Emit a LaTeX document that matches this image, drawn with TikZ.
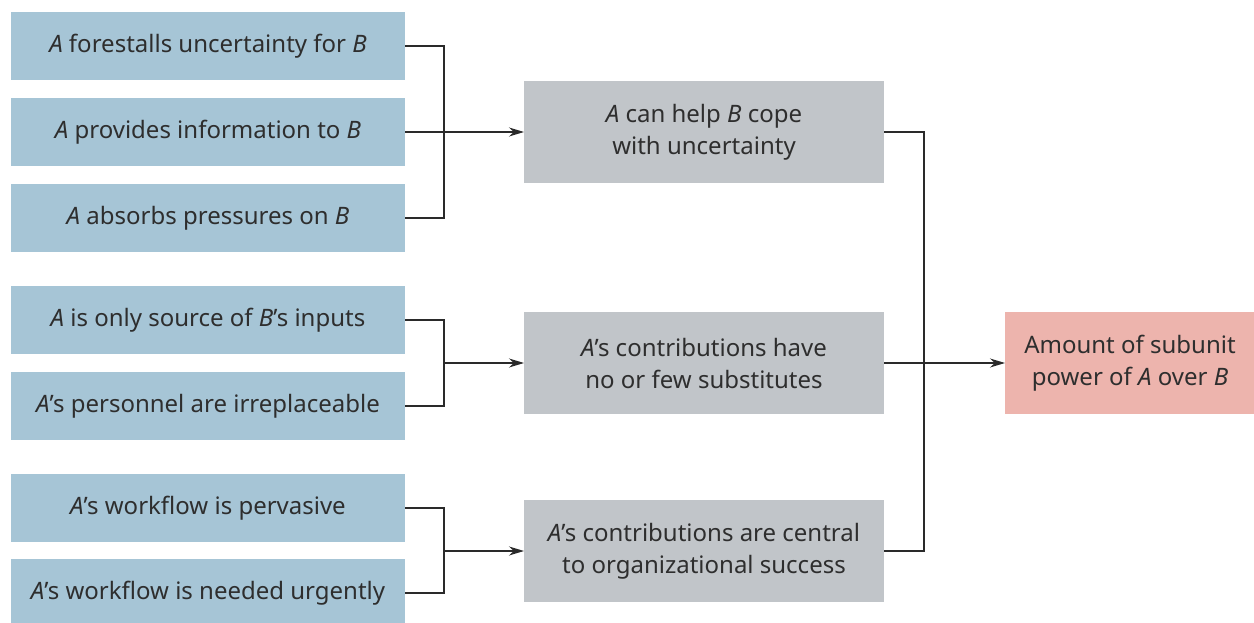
\documentclass[tikz,border=0pt]{standalone}
\usepackage{fontspec}
\setmainfont{Noto Sans}
\usetikzlibrary{arrows.meta}
\definecolor{bluebox}{HTML}{A6C5D6}
\definecolor{graybox}{HTML}{C1C5C9}
\definecolor{pinkbox}{HTML}{EDB4AD}
\definecolor{txt}{HTML}{2E2E2E}
\definecolor{ln}{HTML}{2A2A2A}
\tikzset{
  base/.style={inner sep=0pt, outer sep=0pt, text=txt, align=center, font=\fontsize{24}{32}\selectfont},
  leftbox/.style={base, fill=bluebox, minimum width=394pt, minimum height=68pt},
  midbox/.style={base, fill=graybox, minimum width=360pt, minimum height=102pt},
  outbox/.style={base, fill=pinkbox, minimum width=250pt, minimum height=102pt},
  conn/.style={draw=ln, line width=1.4pt},
  arr/.style={conn, -{Stealth[length=15pt,width=9pt]}}
}
\begin{document}
\begin{tikzpicture}[x=1pt,y=-1pt]
\useasboundingbox (0,0) rectangle (1254,623);
% left boxes
\node[leftbox] (l1) at (208,46) {\textit{A} forestalls uncertainty for \textit{B}};
\node[leftbox] (l2) at (208,132) {\textit{A} provides information to \textit{B}};
\node[leftbox] (l3) at (208,218) {\textit{A} absorbs pressures on \textit{B}};
\node[leftbox] (l4) at (208,320) {\textit{A} is only source of \textit{B}’s inputs};
\node[leftbox] (l5) at (208,406) {\textit{A}’s personnel are irreplaceable};
\node[leftbox] (l6) at (208,508) {\textit{A}’s workflow is pervasive};
\node[leftbox] (l7) at (208,593) {\textit{A}’s workflow is needed urgently};
% middle boxes
\node[midbox] (m1) at (704,132) {\textit{A} can help \textit{B} cope\\with uncertainty};
\node[midbox] (m2) at (704,363) {\textit{A}’s contributions have\\no or few substitutes};
\node[midbox] (m3) at (704,551) {\textit{A}’s contributions are central\\to organizational success};
% output
\node[outbox, anchor=west] (o) at (1005,363) {Amount of subunit\\power of \textit{A} over \textit{B}};
% coordinates
\coordinate (j1) at (444,132);
\coordinate (j2) at (444,363);
\coordinate (j3) at (444,551);
\coordinate (j4) at (924,363);
% group 1
\draw[conn] (l1.east) -| (j1);
\draw[conn] (l3.east) -| (j1);
\draw[arr] (l2.east) -- (m1.west);
% group 2
\draw[conn] (l4.east) -| (j2);
\draw[conn] (l5.east) -| (j2);
\draw[arr] (j2) -- (m2.west);
% group 3
\draw[conn] (l6.east) -| (j3);
\draw[conn] (l7.east) -| (j3);
\draw[arr] (j3) -- (m3.west);
% right
\draw[conn] (m1.east) -| (j4);
\draw[conn] (m3.east) -| (j4);
\draw[arr] (m2.east) -- (o.west);
\end{tikzpicture}
\end{document}
